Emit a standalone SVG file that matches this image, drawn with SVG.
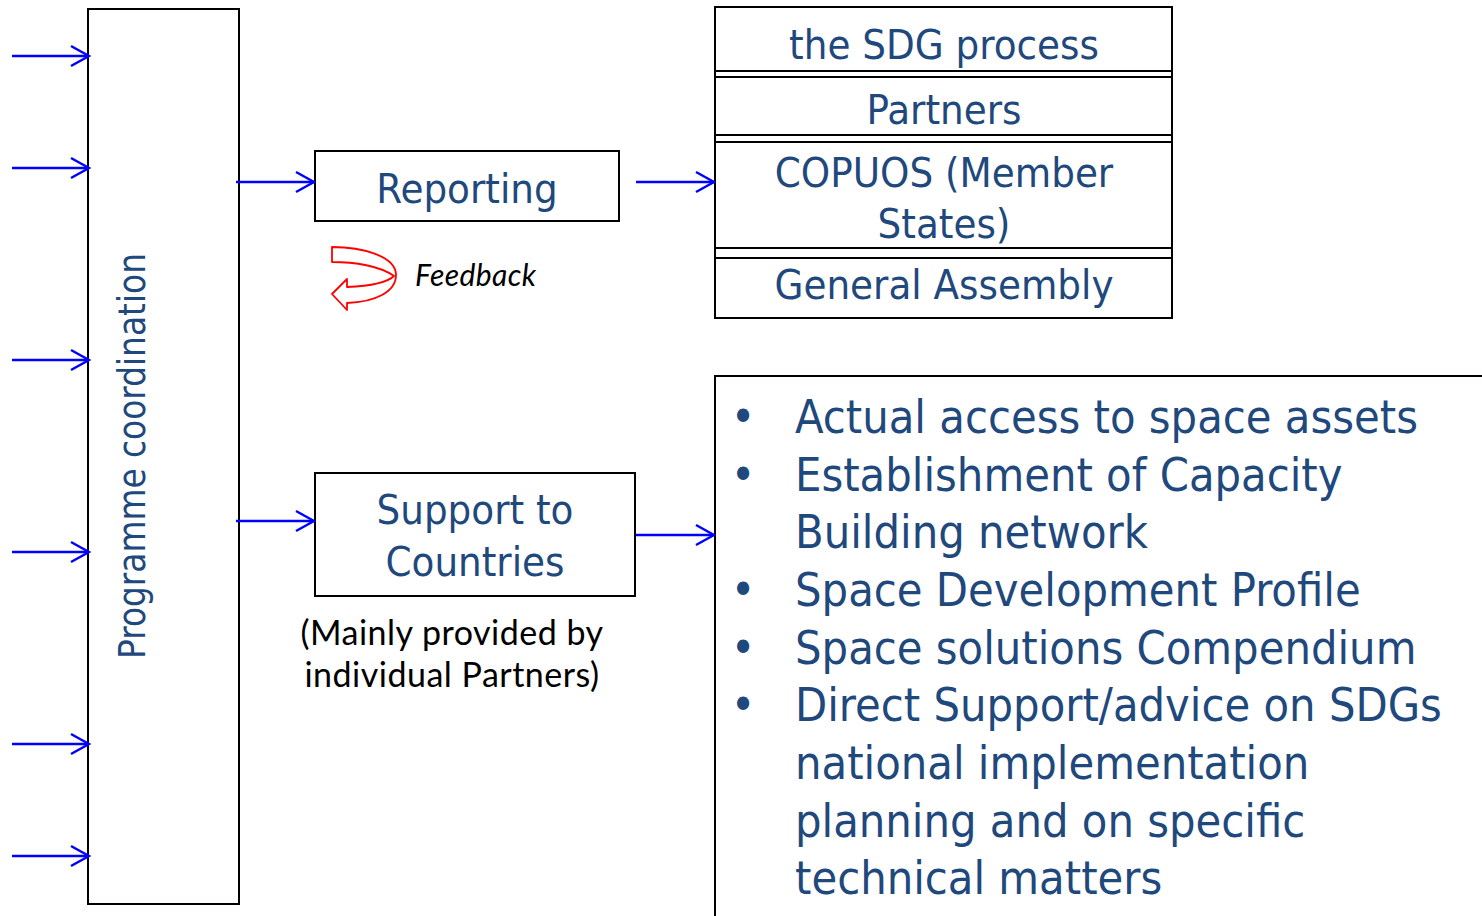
<svg xmlns="http://www.w3.org/2000/svg" width="1482" height="916" viewBox="0 0 1482 916">
<style>
.box{fill:#fff;stroke:#000;stroke-width:2}
.t{font-family:"DejaVu Sans Condensed","DejaVu Sans",sans-serif;font-stretch:condensed;fill:#1F497D;text-anchor:middle;font-size:41.5px}
.b{font-family:"DejaVu Sans Condensed","DejaVu Sans",sans-serif;font-stretch:condensed;fill:#1F497D;font-size:46.5px}
.c{font-family:Lato,"Liberation Sans",sans-serif;fill:#000}
.arr{stroke:#0000FF;stroke-width:2.5;fill:none;marker-end:url(#ah)}
</style>
<defs>
<marker id="ah" markerUnits="userSpaceOnUse" viewBox="-22 -13 24 26" refX="0" refY="0" markerWidth="24" markerHeight="26" orient="auto">
<path d="M-18,-10 L0,0 L-18,10" fill="none" stroke="#0000FF" stroke-width="2.5"/>
</marker>
</defs>
<rect width="1482" height="916" fill="#fff"/>

<g id="programme-coordination">
<rect class="box" x="88" y="9" width="151" height="895"/>
<text class="t" style="font-size:36.5px" transform="translate(145,456) rotate(-90)">Programme coordination</text>
</g>

<g id="reporting">
<rect class="box" x="315" y="151" width="304" height="70"/>
<text class="t" x="467" y="203">Reporting</text>
</g>

<g id="feedback">
<path d="M332,247 C362,247 396,256 396,275 C396,292 375,302 347,303 L347,310 L332,294 L347,279 L347,287 C370,286 388,282 394,276 C380,266 355,262 332,262 Z" fill="#fff" stroke="#FF0000" stroke-width="1.8" stroke-linejoin="round"/>
<text class="c" x="415" y="286" style="font-size:30px;font-style:italic;letter-spacing:0.4px">Feedback</text>
</g>

<g id="stakeholders">
<rect class="box" x="715" y="7" width="457" height="64"/>
<rect class="box" x="715" y="77" width="457" height="58"/>
<rect class="box" x="715" y="142" width="457" height="106"/>
<rect class="box" x="715" y="258" width="457" height="60"/>
<line x1="715" y1="7" x2="715" y2="318" stroke="#000" stroke-width="2"/>
<line x1="1172" y1="7" x2="1172" y2="318" stroke="#000" stroke-width="2"/>
<text class="t" x="944" y="59">the SDG process</text>
<text class="t" x="944" y="124">Partners</text>
<text class="t" x="944" y="187">COPUOS (Member</text>
<text class="t" x="944" y="238">States)</text>
<text class="t" x="944" y="299">General Assembly</text>
</g>

<g id="support-to-countries">
<rect class="box" x="315" y="473" width="320" height="123"/>
<text class="t" x="475" y="524">Support to</text>
<text class="t" x="475" y="576">Countries</text>
<text class="c" x="452" y="645" text-anchor="middle" style="font-size:34px;letter-spacing:0.5px">(Mainly provided by</text>
<text class="c" x="452" y="687" text-anchor="middle" style="font-size:34px;letter-spacing:0.5px">individual Partners)</text>
</g>

<g id="services">
<path d="M1482,376 L715,376 L715,916" fill="none" stroke="#000" stroke-width="2"/>
<g class="b">
<text x="743" y="433" text-anchor="middle">•</text>
<text x="743" y="491" text-anchor="middle">•</text>
<text x="743" y="606" text-anchor="middle">•</text>
<text x="743" y="664" text-anchor="middle">•</text>
<text x="743" y="721" text-anchor="middle">•</text>
<text x="795" y="433">Actual access to space assets</text>
<text x="795" y="491">Establishment of Capacity</text>
<text x="795" y="548">Building network</text>
<text x="795" y="606">Space Development Profile</text>
<text x="795" y="664">Space solutions Compendium</text>
<text x="795" y="721">Direct Support/advice on SDGs</text>
<text x="795" y="779">national implementation</text>
<text x="795" y="837">planning and on specific</text>
<text x="795" y="894">technical matters</text>
</g>
</g>

<g id="connectors">
<line class="arr" x1="12" y1="56" x2="89" y2="56"/>
<line class="arr" x1="12" y1="168" x2="89" y2="168"/>
<line class="arr" x1="12" y1="360" x2="89" y2="360"/>
<line class="arr" x1="12" y1="552" x2="89" y2="552"/>
<line class="arr" x1="12" y1="744" x2="89" y2="744"/>
<line class="arr" x1="12" y1="856" x2="89" y2="856"/>
<line class="arr" x1="236" y1="182" x2="314" y2="182"/>
<line class="arr" x1="636" y1="182" x2="714" y2="182"/>
<line class="arr" x1="236" y1="521" x2="314" y2="521"/>
<line class="arr" x1="636" y1="535" x2="714" y2="535"/>
</g>
</svg>
